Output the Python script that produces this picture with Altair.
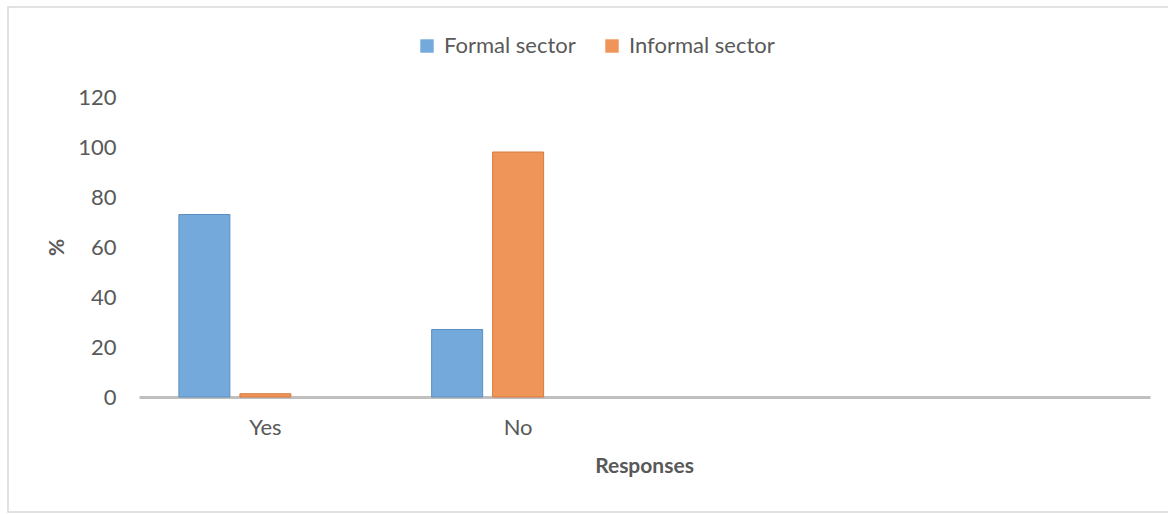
import altair as alt
import pandas as pd

categories = ["Yes", "No"]
axis_slots = ["Yes", "No", " ", "  "]
series = ["Formal sector", "Informal sector"]
offset_slots = ["Formal sector", "Informal sector", "(blank)"]
formal = [73, 27]
informal = [1.3, 98]
y_ticks = [0, 20, 40, 60, 80, 100, 120]

rows = []
for i, c in enumerate(categories):
    rows.append({"Response": c, "Sector": series[0], "Percent": formal[i]})
    rows.append({"Response": c, "Sector": series[1], "Percent": informal[i]})
df = pd.DataFrame(rows)

FONT = "Lato"
GREY = "#595959"

bars = alt.Chart(df).mark_bar(strokeWidth=1).encode(
    x=alt.X("Response:N", sort=axis_slots,
            scale=alt.Scale(domain=axis_slots, paddingInner=0, paddingOuter=0),
            axis=alt.Axis(title="Responses", labelAngle=0, ticks=False,
                          domainColor="#bfbfbf", domainWidth=3,
                          labelFont=FONT, labelFontSize=22, labelColor=GREY,
                          labelPadding=20,
                          titleFont=FONT, titleFontSize=21, titleFontWeight="bold",
                          titleColor=GREY, titleX=505, titleY=69,
                          titleBaseline="middle", titleAlign="center")),
    xOffset=alt.XOffset("Sector:N",
                        scale=alt.Scale(domain=offset_slots, paddingInner=0.164,
                                        paddingOuter=0.654)),
    y=alt.Y("Percent:Q",
            scale=alt.Scale(domain=[0, 120], nice=False),
            axis=alt.Axis(title="%", values=y_ticks, ticks=False, domain=False,
                          grid=False, labelFont=FONT, labelFontSize=22,
                          labelColor=GREY, labelPadding=23,
                          titleFont=FONT, titleFontSize=21, titleFontWeight="bold",
                          titleColor=GREY, titleX=-82, titleY=150, titleAngle=270,
                          titleAlign="center", titleBaseline="middle")),
    color=alt.Color("Sector:N",
                    scale=alt.Scale(domain=series, range=["#74a9dc", "#f0955a"]),
                    legend=alt.Legend(title=None, orient="none", direction="horizontal",
                                      legendX=277, legendY=-62,
                                      symbolType="square", symbolSize=180,
                                      symbolStrokeWidth=0,
                                      labelFont=FONT, labelFontSize=22,
                                      labelColor=GREY, labelOffset=6,
                                      columnPadding=25)),
    stroke=alt.Stroke("Sector:N",
                      scale=alt.Scale(domain=series, range=["#5b8fc2", "#d9793d"]),
                      legend=None),
)

border = alt.Chart(pd.DataFrame({"a": [0]})).mark_rect(
    fill=None, stroke="#d9d9d9", strokeWidth=1.5
).encode(
    x=alt.value(-131), x2=alt.value(1100),
    y=alt.value(-90), y2=alt.value(415),
)

chart = alt.layer(border, bars).properties(
    width=1011, height=300,
    padding={"left": 139, "top": 97, "right": 18, "bottom": 117},
    autosize=alt.AutoSizeParams(type="none"),
    background="white",
).configure_view(stroke=None)

chart.save("out.html", embed_options={"renderer": "svg", "actions": False})
